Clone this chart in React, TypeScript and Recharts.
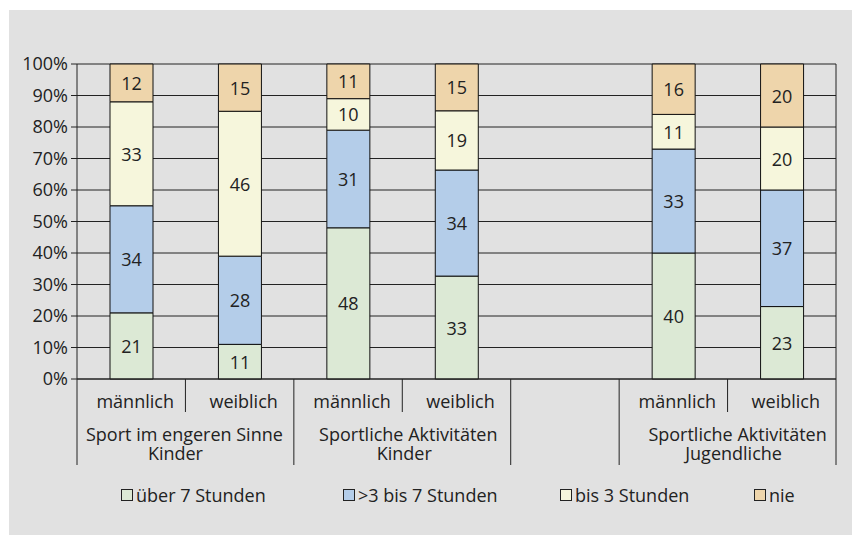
import React from "react";
import {
    BarChart,
    Bar,
    XAxis,
    YAxis,
    CartesianGrid,
    LabelList,
} from "recharts";

const categories = ["männlich", "weiblich", "männlich", "weiblich", "", "männlich", "weiblich"];
const ueber7 = [21, 11, 48, 33, null, 40, 23];
const bis7 = [34, 28, 31, 34, null, 33, 37];
const bis3 = [33, 46, 10, 19, null, 11, 20];
const nie = [12, 15, 11, 15, null, 16, 20];

// group label lines, first and last category index of each group
const groups = [
    { lines: ["Sport im engeren Sinne", "Kinder"], from: 0, to: 1 },
    { lines: ["Sportliche Aktivitäten", "Kinder"], from: 2, to: 3 },
    { lines: [], from: 4, to: 4 },
    { lines: ["Sportliche Aktivitäten", "Jugendliche"], from: 5, to: 6 },
];
// small horizontal nudges per group line, to sit like the original
const groupLineShift = [[-1, -10], [6, 2], [0, 0], [10, 6]];

const yTicks = [0, 0.1, 0.2, 0.3, 0.4, 0.5, 0.6, 0.7, 0.8, 0.9, 1];

const series = [
    { key: "ueber7", name: "über 7 Stunden", color: "#dce9d5" },
    { key: "bis7", name: ">3 bis 7 Stunden", color: "#b4cde9" },
    { key: "bis3", name: "bis 3 Stunden", color: "#f6f6dc" },
    { key: "nie", name: "nie", color: "#eed5ab" },
];

const data = categories.map((name, i) => ({
    name,
    ueber7: ueber7[i],
    bis7: bis7[i],
    bis3: bis3[i],
    nie: nie[i],
}));

const W = 853;
const H = 535;
const M = { top: 64, right: 17, left: 17, bottom: 56 };
const Y_AXIS_W = 60;
const X_AXIS_H = 100;
const FONT = "'Open Sans', sans-serif";
const TEXT = "#222";

const plotWidth = W - M.left - M.right - Y_AXIS_W;
const band = plotWidth / categories.length;

function CategoryTick(props: any) {
    const { x, y, index } = props;
    const left = x - band / 2;
    const right = x + band / 2;
    const gi = groups.findIndex(g => index >= g.from && index <= g.to);
    const group = groups[gi];
    const groupEnd = group.to === index;
    const parts: React.ReactNode[] = [];
    if (index === 0) {
        parts.push(<line key="l0" x1={left} x2={left} y1={y} y2={y + 86} stroke="#222" />);
    }
    parts.push(
        <line key="r" x1={right} x2={right} y1={y} y2={y + (groupEnd ? 86 : 33)} stroke="#222" />
    );
    parts.push(
        <text key="t" x={x + 4} y={y + 29} textAnchor="middle" fontSize={18} fill={TEXT} fontFamily={FONT}>
            {categories[index]}
        </text>
    );
    if (group.from === index && group.lines.length) {
        const cx = left + ((group.to - group.from + 1) * band) / 2;
        group.lines.forEach((ln, k) => {
            parts.push(
                <text
                    key={"g" + k}
                    x={cx + groupLineShift[gi][k]}
                    y={y + 62 + k * 19}
                    textAnchor="middle"
                    fontSize={18}
                    fill={TEXT}
                    fontFamily={FONT}
                >
                    {ln}
                </text>
            );
        });
    }
    return <g>{parts}</g>;
}

function SegmentLabel(props: any) {
    const { x, y, width, height, value } = props;
    if (value == null) return null;
    return (
        <text
            x={x + width / 2}
            y={y + height / 2}
            textAnchor="middle"
            dominantBaseline="central"
            fontSize={18}
            fill={TEXT}
            fontFamily={FONT}
        >
            {value}
        </text>
    );
}

const legendX = [121, 343, 560, 754];

export default function App() {
    return (
        <div style={{ position: "absolute", left: 0, top: 0, width: W, height: H, overflow: "hidden" }}>
            <div style={{ position: "absolute", left: 9, top: 10, width: W - 10, height: H - 10, background: "#e1e1e1" }} />
            <div style={{ position: "absolute", left: 0, top: 0 }}>
                <BarChart width={W} height={H} data={data} stackOffset="expand" margin={M} barSize={43}>
                    <CartesianGrid
                        stroke="#222"
                        vertical={true}
                        verticalCoordinatesGenerator={({ offset }: any) => [offset.left + offset.width]}
                    />
                    <XAxis
                        dataKey="name"
                        interval={0}
                        height={X_AXIS_H}
                        tickSize={0}
                        tickMargin={0}
                        tickLine={false}
                        axisLine={{ stroke: "#222" }}
                        tick={CategoryTick}
                    />
                    <YAxis
                        width={Y_AXIS_W}
                        domain={[0, 1]}
                        ticks={yTicks}
                        tickFormatter={(v: number) => `${Math.round(v * 100)}%`}
                        tickSize={6}
                        tickMargin={3}
                        axisLine={{ stroke: "#222" }}
                        tickLine={{ stroke: "#222" }}
                        tick={{ fontSize: 18, fill: TEXT, fontFamily: FONT }}
                    />
                    {series.map(s => (
                        <Bar
                            key={s.key}
                            dataKey={s.key}
                            name={s.name}
                            stackId="a"
                            fill={s.color}
                            stroke="#111"
                            strokeWidth={1}
                            isAnimationActive={false}
                        >
                            <LabelList dataKey={s.key} content={SegmentLabel} />
                        </Bar>
                    ))}
                </BarChart>
            </div>
            {series.map((s, i) => (
                <div
                    key={s.key}
                    style={{
                        position: "absolute",
                        left: legendX[i],
                        top: 483,
                        display: "flex",
                        alignItems: "center",
                        fontFamily: FONT,
                        fontSize: 18,
                        color: TEXT,
                        whiteSpace: "nowrap",
                    }}
                >
                    <span
                        style={{
                            display: "inline-block",
                            width: 10,
                            height: 10,
                            background: s.color,
                            border: "1px solid #222",
                            marginRight: 3,
                        }}
                    />
                    {s.name}
                </div>
            ))}
        </div>
    );
}
